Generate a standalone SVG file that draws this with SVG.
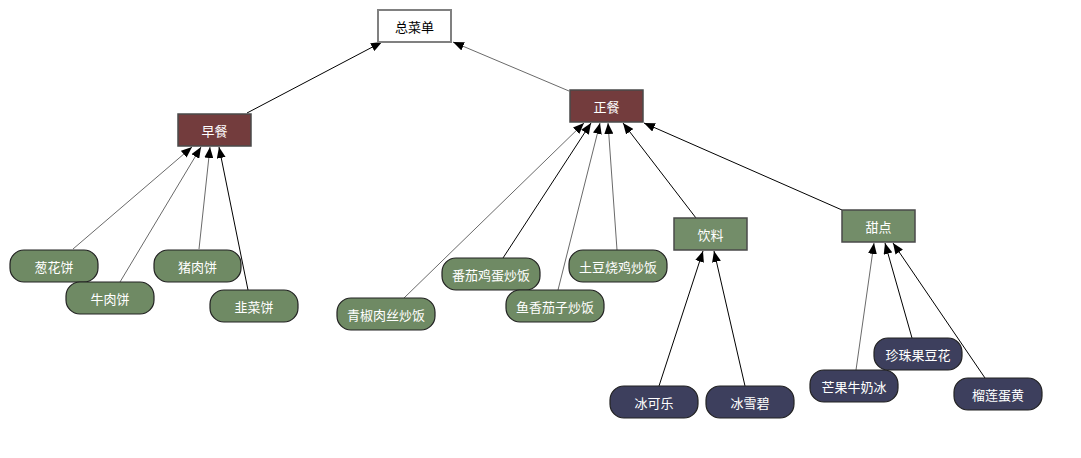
<svg xmlns="http://www.w3.org/2000/svg" width="1081" height="458" viewBox="0 0 1081 458">
<style>
text{font-family:"Noto Sans CJK SC","Liberation Sans",sans-serif;font-size:13px;text-anchor:middle;dominant-baseline:central}
.root rect{fill:#fff;stroke:#808080;stroke-width:2}
.root text{fill:#000}
.cat rect{fill:#733c3d;stroke:#4a4a4a;stroke-width:1.5}
.sub rect{fill:#738d69;stroke:#4a4a4a;stroke-width:1.5}
.leafg rect{fill:#6f8a64;stroke:#222;stroke-width:1.2}
.leafb rect{fill:#3d3f5d;stroke:#222;stroke-width:1.2}
.cat text,.sub text,.leafg text,.leafb text{fill:#fff}
.e{fill:none;stroke-width:1;marker-end:url(#arr)}
.k{stroke:#000}
.g{stroke:#6a6a6a}
</style>
<defs>
<marker id="arr" markerUnits="userSpaceOnUse" markerWidth="11" markerHeight="9" refX="11" refY="4.5" orient="auto">
<path d="M0,0 L11,4.5 L0,9 z" fill="#000"/>
</marker>
</defs>
<rect width="1081" height="458" fill="#fff"/>
<g id="connectors">
<line class="e k" x1="247" y1="113" x2="382" y2="42"/>
<line class="e g" x1="569" y1="91" x2="453" y2="42"/>
<line class="e g" x1="73" y1="249" x2="192" y2="147"/>
<line class="e g" x1="120" y1="282" x2="201" y2="147"/>
<line class="e g" x1="199" y1="249" x2="210" y2="147"/>
<line class="e k" x1="248" y1="290" x2="219" y2="147"/>
<line class="e g" x1="404" y1="298" x2="584" y2="123"/>
<line class="e k" x1="503" y1="258" x2="591" y2="123"/>
<line class="e g" x1="558" y1="290" x2="600" y2="123"/>
<line class="e g" x1="617" y1="250" x2="608" y2="123"/>
<line class="e k" x1="696" y1="218" x2="623" y2="123"/>
<line class="e k" x1="842" y1="210" x2="644" y2="123"/>
<line class="e k" x1="659" y1="386" x2="703" y2="251"/>
<line class="e k" x1="745" y1="386" x2="714" y2="251"/>
<line class="e g" x1="856" y1="370" x2="874" y2="243"/>
<line class="e k" x1="912" y1="338" x2="885" y2="243"/>
<line class="e k" x1="985" y1="378" x2="893" y2="243"/>
</g>
<g id="n-root" class="root"><rect x="378" y="10" width="73" height="32"/><text x="414.5" y="26">总菜单</text></g>
<g id="n-breakfast" class="cat"><rect x="178" y="114" width="73" height="32"/><text x="214.5" y="130">早餐</text></g>
<g id="n-main" class="cat"><rect x="570" y="90" width="73" height="32"/><text x="606.5" y="106">正餐</text></g>
<g id="n-drink" class="sub"><rect x="674" y="218" width="73" height="32"/><text x="710.5" y="234">饮料</text></g>
<g id="n-dessert" class="sub"><rect x="842" y="210" width="73" height="32"/><text x="878.5" y="226">甜点</text></g>
<g id="n-conghua" class="leafg"><rect x="10" y="250" width="88" height="32" rx="14"/><text x="54" y="266">葱花饼</text></g>
<g id="n-niurou" class="leafg"><rect x="66" y="282" width="88" height="32" rx="14"/><text x="110" y="298">牛肉饼</text></g>
<g id="n-zhurou" class="leafg"><rect x="154" y="250" width="87" height="32" rx="14"/><text x="197.5" y="266">猪肉饼</text></g>
<g id="n-jiucai" class="leafg"><rect x="210" y="290" width="88" height="32" rx="14"/><text x="254" y="306">韭菜饼</text></g>
<g id="n-qingjiao" class="leafg"><rect x="337" y="298" width="98" height="32" rx="14"/><text x="386" y="314">青椒肉丝炒饭</text></g>
<g id="n-fanqie" class="leafg"><rect x="442" y="258" width="98" height="32" rx="14"/><text x="491" y="274">番茄鸡蛋炒饭</text></g>
<g id="n-yuxiang" class="leafg"><rect x="506" y="290" width="98" height="32" rx="14"/><text x="555" y="306">鱼香茄子炒饭</text></g>
<g id="n-tudou" class="leafg"><rect x="569" y="250" width="98" height="32" rx="14"/><text x="618" y="266">土豆烧鸡炒饭</text></g>
<g id="n-cola" class="leafb"><rect x="610" y="386" width="88" height="32" rx="14"/><text x="654" y="402">冰可乐</text></g>
<g id="n-sprite" class="leafb"><rect x="706" y="386" width="88" height="32" rx="14"/><text x="750" y="402">冰雪碧</text></g>
<g id="n-mango" class="leafb"><rect x="810" y="370" width="88" height="32" rx="14"/><text x="854" y="386">芒果牛奶冰</text></g>
<g id="n-zhenzhu" class="leafb"><rect x="874" y="338" width="88" height="32" rx="14"/><text x="918" y="354">珍珠果豆花</text></g>
<g id="n-liulian" class="leafb"><rect x="954" y="378" width="88" height="32" rx="14"/><text x="998" y="394">榴莲蛋黄</text></g>
</svg>
